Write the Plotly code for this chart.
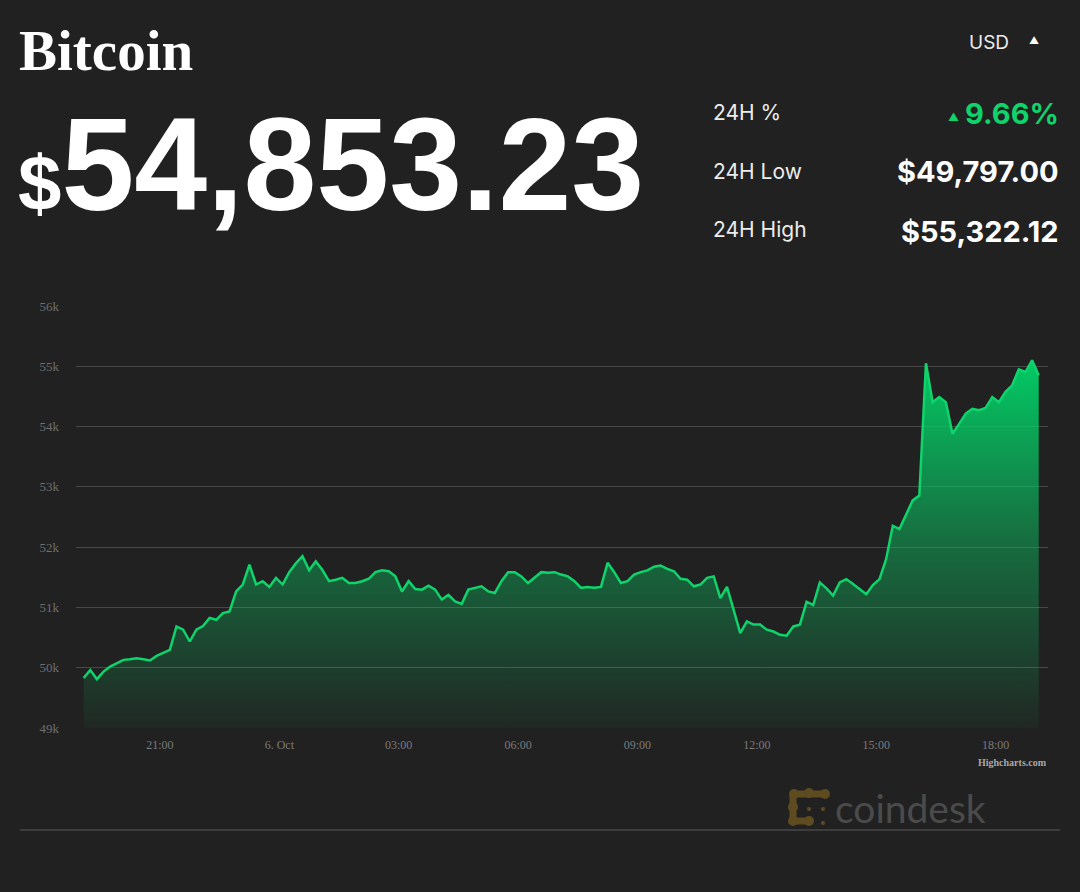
import pandas as pd
import plotly.graph_objects as go

# 24h of BTC/USD, one reading every 10 minutes
start_time = "2021-10-05 19:05"
prices = [
    49830, 49960, 49810, 49935, 50020, 50075, 50130, 50140, 50155, 50140,
    50120, 50195, 50240, 50295, 50685, 50630, 50435, 50630, 50690, 50825,
    50795, 50905, 50935, 51265, 51380, 51710, 51380, 51435, 51340, 51490,
    51380, 51585, 51730, 51850, 51615, 51765, 51620, 51435, 51460, 51490,
    51405, 51405, 51435, 51475, 51585, 51615, 51600, 51515, 51265, 51435,
    51305, 51295, 51360, 51295, 51130, 51210, 51100, 51060, 51295, 51325,
    51350, 51265, 51240, 51435, 51585, 51585, 51515, 51405, 51490, 51585,
    51575, 51585, 51545, 51515, 51435, 51325, 51340, 51325, 51340, 51740,
    51585, 51405, 51435, 51545, 51585, 51615, 51675, 51695, 51640, 51600,
    51475, 51460, 51350, 51380, 51490, 51515, 51155, 51340, 50960, 50575,
    50770, 50715, 50715, 50630, 50600, 50545, 50530, 50685, 50715, 51095,
    51040, 51415, 51315, 51195, 51415, 51470, 51390, 51305, 51220, 51370,
    51470, 51805, 52355, 52300, 52525, 52775, 52855, 55050, 54405, 54490,
    54405, 53880, 54045, 54215, 54295, 54270, 54310, 54490, 54405, 54575,
    54685, 54950, 54905, 55100, 54853,
]
times = pd.date_range(start_time, periods=len(prices), freq="10min")

x_tick_times = ["2021-10-05 21:00", "2021-10-06 00:00", "2021-10-06 03:00",
                "2021-10-06 06:00", "2021-10-06 09:00", "2021-10-06 12:00",
                "2021-10-06 15:00", "2021-10-06 18:00"]
x_tick_labels = ["21:00", "6. Oct", "03:00", "06:00", "09:00", "12:00",
                 "15:00", "18:00"]
y_ticks = [49000, 50000, 51000, 52000, 53000, 54000, 55000, 56000]
y_tick_labels = ["49k", "50k", "51k", "52k", "53k", "54k", "55k", "56k"]

price_now = "54,853.23"
stats_labels = ["24H %", "24H Low", "24H High"]
stats_values = ["9.66%", "$49,797.00", "$55,322.12"]

BG = "#212121"
GREEN = "#0fd46b"
SANS = "Inter, Liberation Sans, Arial, sans-serif"
HEAVY = "Liberation Sans, Arial, sans-serif"
SERIF = "Liberation Serif, Times New Roman, serif"

# plot area in pixels, used to place the page furniture
L, R, T, B = 76, 1048, 306, 728


def px(x):
    return (x - L) / (R - L)


def py(y):
    return (B - y) / (B - T)


fig = go.Figure()
fig.add_trace(
    go.Scatter(
        x=times, y=prices, mode="lines",
        line=dict(color=GREEN, width=2.5),
        fill="tozeroy",
        fillgradient=dict(
            type="vertical",
            colorscale=[[0, "rgba(10,200,100,0.04)"],
                        [0.5, "rgba(10,200,100,0.45)"],
                        [1, "rgba(0,212,104,0.95)"]],
            start=49000, stop=55100,
        ),
        hoverinfo="skip",
    )
)

fig.update_layout(
    width=1080, height=892,
    margin=dict(l=L, r=1080 - R, t=T, b=892 - B),
    paper_bgcolor=BG, plot_bgcolor=BG,
    showlegend=False,
)
fig.update_xaxes(
    range=["2021-10-05 18:53:30", "2021-10-06 19:19"],
    tickvals=x_tick_times, ticktext=x_tick_labels,
    tickfont=dict(family=SERIF, size=12, color="#7a7a7a"),
    showgrid=False, zeroline=False, showline=False,
    ticks="", ticklabelstandoff=8,
)
fig.update_yaxes(
    range=[49000, 56000],
    tickvals=y_ticks, ticktext=y_tick_labels,
    tickfont=dict(family=SERIF, size=13, color="#6e6e6e"),
    gridcolor="#484848", gridwidth=1, zeroline=False, showline=False,
    ticks="", ticklabelstandoff=16,
)


def note(text, x, y, xanchor="left", size=20, color="#ececec",
         family=SANS, weight="normal"):
    fig.add_annotation(
        text=text, x=px(x), y=py(y), xref="paper", yref="paper",
        xanchor=xanchor, yanchor="middle", showarrow=False,
        font=dict(family=family, size=size, color=color, weight=weight),
    )


note("Bitcoin", 17, 50, size=57, color="white", family=SERIF, weight="bold")
note("<span style='font-size:78px'>$</span>" + price_now, 16, 164,
     size=131, color="white", family=HEAVY, weight="bold")
note("USD", 989, 42, xanchor="center", size=19)
note("▲", 1034, 40, xanchor="center", size=10, color="white")

for label, value, y in zip(stats_labels, stats_values, [112, 171, 230]):
    note(label, 711, y, size=21)
    note(value, 1061, y + 1, xanchor="right", size=29,
         color=GREEN if label == "24H %" else "white", weight="bold")
note("▲", 953, 117, xanchor="center", size=11, color=GREEN)

note("Highcharts.com", 1049, 762, xanchor="right", size=10, color="#a8a8a8",
     family=SERIF, weight="bold")
note("coindesk", 833, 808, size=39, color="#4b4b4b",
     family="Lato, Open Sans, sans-serif")

# footer rule
fig.add_shape(type="line", xref="paper", yref="paper",
              x0=px(20), x1=px(1060), y0=py(830), y1=py(830),
              line=dict(color="#5a5a5a", width=1))

# coindesk mark
GOLD = "#5e4b1f"
for x0, y0, x1, y1 in [(794, 794, 825, 794), (793, 794, 793, 821),
                       (793, 821, 809, 821)]:
    fig.add_shape(type="line", xref="paper", yref="paper",
                  x0=px(x0), x1=px(x1), y0=py(y0), y1=py(y1),
                  line=dict(color=GOLD, width=7))
for cx, cy, r in [(794, 794, 5), (809, 793, 5), (825, 794, 5),
                  (793, 807, 5), (793, 821, 5), (809, 821, 5),
                  (809, 809, 2), (823, 809, 2), (823, 823, 2)]:
    fig.add_shape(type="circle", xref="paper", yref="paper",
                  x0=px(cx - r), x1=px(cx + r), y0=py(cy + r), y1=py(cy - r),
                  fillcolor=GOLD, line=dict(width=0))

fig.write_html("out.html", config={"displayModeBar": False},
               post_script="document.body.style.margin='0';")
